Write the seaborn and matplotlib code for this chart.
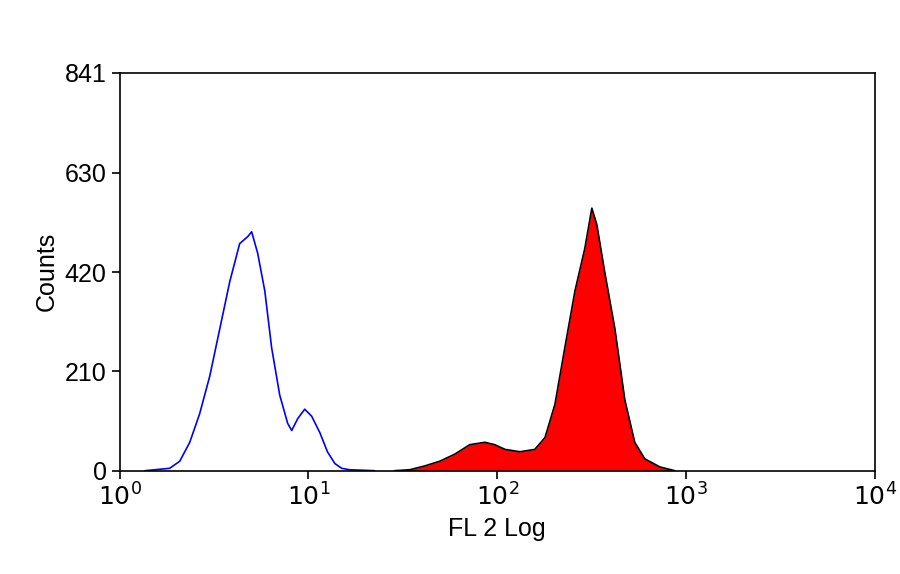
import matplotlib
matplotlib.use("Agg")
import matplotlib.pyplot as plt
import seaborn as sns
import pandas as pd

blue_x = [1.36,1.84,2.08,2.35,2.65,3.00,3.39,3.83,4.32,4.77,5.00,5.38,5.87,6.38,7.04,7.76,8.15,8.77,9.55,10.4,11.5,12.6,13.8,15.0,16.5,22.4]
blue_y = [0,5,20,60,120,200,300,400,480,495,505,460,380,260,160,100,85,110,130,115,80,40,15,5,2,0]
red_x = [28.6,34.4,41.3,49.6,59.6,71.5,85.9,97.0,110,132,158,179,202,228,258,291,317,337,371,420,474,535,605,726,872]
red_y = [0,2,10,20,35,55,60,55,45,40,45,70,140,260,380,470,555,520,420,300,150,60,25,8,0]
yticks = [0,210,420,630,841]
xticks = [1,10,100,1000,10000]
xlabels = ["$10^0$","$10^1$","$10^2$","$10^3$","$10^4$"]

sns.set_style("white")
plt.rcParams['font.family'] = ['Liberation Sans','DejaVu Sans']
for k in ["text.color","axes.labelcolor","xtick.color","ytick.color"]:
    plt.rcParams[k] = "black"
fig, ax = plt.subplots(figsize=(9,5.74), dpi=100)
fig.subplots_adjust(left=0.133, right=0.972, top=0.873, bottom=0.18)
red = pd.DataFrame({"x": red_x, "y": red_y})
blue = pd.DataFrame({"x": blue_x, "y": blue_y})
ax.fill_between(red.x, red.y, color="#ff0000", lw=0)
sns.lineplot(data=red, x="x", y="y", ax=ax, color="black", lw=1.2)
sns.lineplot(data=blue, x="x", y="y", ax=ax, color="#0000ff", lw=1.2)
ax.set_xscale("log")
ax.set_xlim(1, 10000)
ax.set_ylim(0, 841)
ax.set_xticks(xticks)
ax.set_xticklabels(xlabels)
ax.minorticks_off()
ax.set_yticks(yticks)
ax.tick_params(labelsize=18, length=6, direction="out", left=True, bottom=True, width=1.2)
ax.set_xlabel("FL 2 Log", fontsize=18)
ax.set_ylabel("Counts", fontsize=18)
for s in ax.spines.values():
    s.set_color("black"); s.set_linewidth(1.2)
fig.savefig("out.png")
